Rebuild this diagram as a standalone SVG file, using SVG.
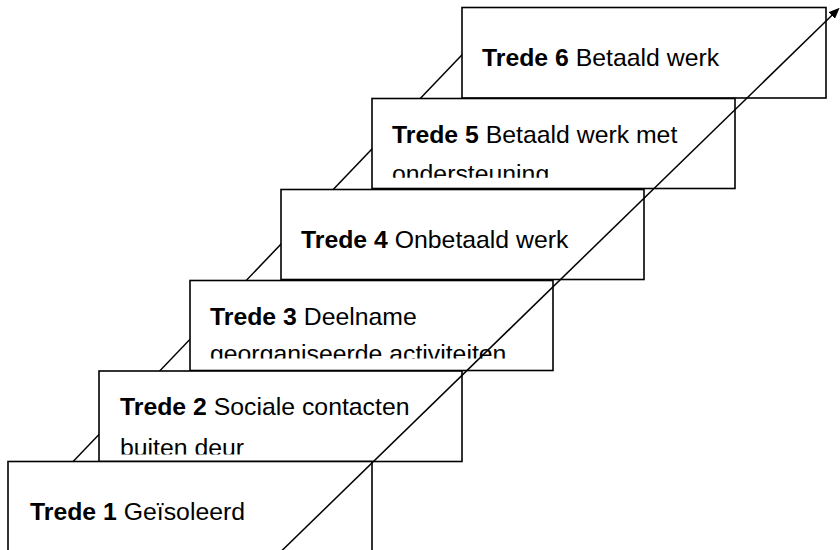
<svg xmlns="http://www.w3.org/2000/svg" width="840" height="550" viewBox="0 0 840 550">
<style>
.box{fill:#fff;stroke:#000;stroke-width:1.6}
.t{font-family:"Liberation Sans",Arial,sans-serif;font-size:24.8px;fill:#000}
.b{font-weight:bold}
.ln{stroke:#000;stroke-width:1.5;fill:none}
</style>
<defs>
<marker id="ah" markerUnits="userSpaceOnUse" markerWidth="11" markerHeight="9" refX="6" refY="4.5" orient="auto">
<path d="M0,0 L11,4.5 L0,9 z" fill="#000"/>
</marker>
<clipPath id="c5"><rect x="372" y="98.5" width="364" height="79.2"/></clipPath>
<clipPath id="c3"><rect x="190" y="280.5" width="364" height="78"/></clipPath>
<clipPath id="c2"><rect x="99" y="371" width="364" height="83.5"/></clipPath>
</defs>
<g id="back-line">
<line class="ln" x1="60" y1="475.3" x2="480" y2="35.9"/>
</g>
<g id="trede6">
<rect class="box" x="462" y="7.5" width="364" height="90.5"/>
<text class="t" x="482" y="65.5"><tspan class="b">Trede 6</tspan> Betaald werk</text>
</g>
<g id="trede5">
<rect class="box" x="372" y="98.5" width="363" height="90"/>
<g clip-path="url(#c5)">
<text class="t" x="392" y="143"><tspan class="b">Trede 5</tspan> Betaald werk met</text>
<text class="t" x="392" y="182">ondersteuning</text>
</g>
</g>
<g id="trede4">
<rect class="box" x="281" y="189.5" width="363" height="90"/>
<text class="t" x="301" y="248"><tspan class="b">Trede 4</tspan> Onbetaald werk</text>
</g>
<g id="trede3">
<rect class="box" x="190" y="280.5" width="363" height="90"/>
<g clip-path="url(#c3)">
<text class="t" x="210" y="325"><tspan class="b">Trede 3</tspan> Deelname</text>
<text class="t" x="210" y="361.5">georganiseerde activiteiten</text>
</g>
</g>
<g id="trede2">
<rect class="box" x="99" y="371" width="363" height="90.5"/>
<g clip-path="url(#c2)">
<text class="t" x="120" y="415"><tspan class="b">Trede 2</tspan> Sociale contacten</text>
<text class="t" x="120" y="456">buiten deur</text>
</g>
</g>
<g id="trede1">
<rect class="box" x="8" y="461.5" width="364" height="100"/>
<text class="t" x="30" y="520"><tspan class="b">Trede 1</tspan> Geïsoleerd</text>
</g>
<g id="connectors">
<line class="ln" x1="281.5" y1="551" x2="836.1" y2="11.3" marker-end="url(#ah)"/>
</g>
</svg>
